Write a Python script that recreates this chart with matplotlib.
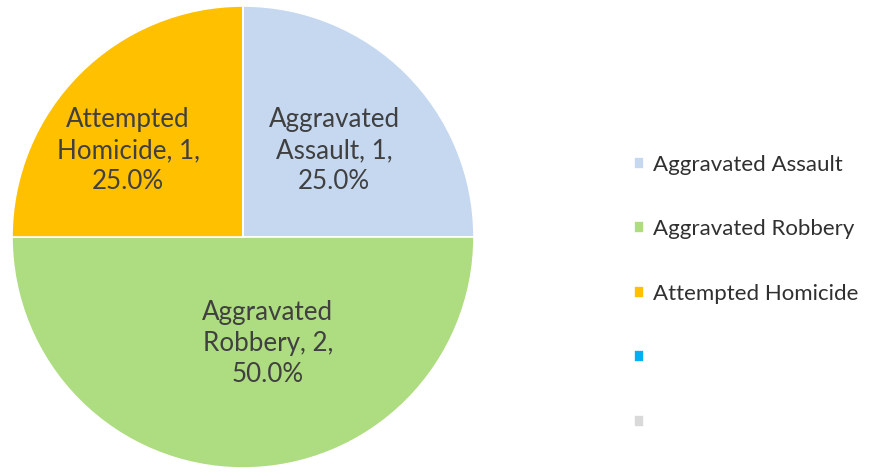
import numpy as np
import matplotlib
matplotlib.use('Agg')
import matplotlib.pyplot as plt

categories = ['Aggravated Assault', 'Aggravated Robbery', 'Attempted Homicide', '', '']
counts = [1, 2, 1, 0, 0]
colors = ['#C5D8F0', '#AEDC80', '#FFC000', '#00B0F0', '#D9D9D9']
slice_names = ['Aggravated\nAssault', 'Aggravated\nRobbery', 'Attempted\nHomicide', '', '']

plt.rcParams['font.family'] = ['Lato', 'DejaVu Sans']

fig = plt.figure(figsize=(8.69, 4.72), dpi=100)
ax = fig.add_axes([12 / 869, 4 / 472, 462 / 869, 462 / 472])

wedges, _ = ax.pie(counts, colors=colors, startangle=90, counterclock=False,
                   wedgeprops=dict(edgecolor='white', linewidth=1.2))
ax.set_xlim(-1, 1)
ax.set_ylim(-1, 1)
ax.set_aspect('equal')

# Excel "best fit" nudges the labels a little sideways
label_shift = [0.02, 0.108, -0.123, 0.0, 0.0]

total = sum(counts)
for w, n, name, dx in zip(wedges, counts, slice_names, label_shift):
    if n == 0:
        continue
    mid = np.deg2rad((w.theta1 + w.theta2) / 2)
    dist = 0.53 if n / total < 0.5 else 0.46
    ax.text(dist * np.cos(mid) + dx, dist * np.sin(mid),
            '%s, %d,\n%.1f%%' % (name, n, 100 * n / total),
            ha='center', va='center', fontsize=18.7, color='#404040',
            linespacing=1.3)

fig.legend(wedges, categories, loc='center left', bbox_to_anchor=(614 / 869, 0.378),
           frameon=False, fontsize=16, handlelength=0.46, handleheight=0.46,
           handletextpad=0.4, labelspacing=2.0, labelcolor='#303030')

fig.savefig('out.png', dpi=100)
